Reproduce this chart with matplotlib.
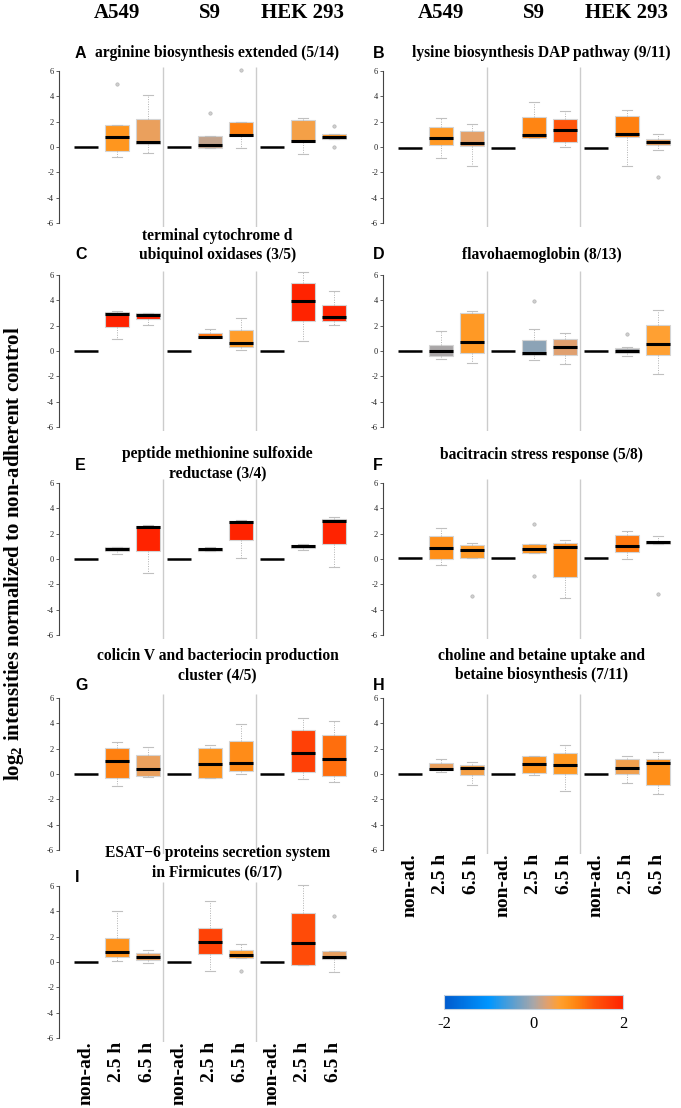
import matplotlib
matplotlib.use('Agg')
import matplotlib.pyplot as plt
from matplotlib.colors import LinearSegmentedColormap, Normalize
from matplotlib.cm import ScalarMappable

# ---- data ----
cell_lines = ['A549', 'S9', 'HEK 293']
timepoints = ['non-ad.', '2.5 h', '6.5 h']
letters = ['A', 'B', 'C', 'D', 'E', 'F', 'G', 'H', 'I']
titles = ['arginine biosynthesis extended (5/14)',
          'lysine biosynthesis DAP pathway (9/11)',
          'terminal cytochrome d\nubiquinol oxidases (3/5)',
          'flavohaemoglobin (8/13)',
          'peptide methionine sulfoxide\nreductase (3/4)',
          'bacitracin stress response (5/8)',
          'colicin V and bacteriocin production\ncluster (4/5)',
          'choline and betaine uptake and\nbetaine biosynthesis (7/11)',
          'ESAT\u22126 proteins secretion system\nin Firmicutes (6/17)']

# order in each row: A549 2.5h, A549 6.5h, S9 2.5h, S9 6.5h, HEK 2.5h, HEK 6.5h
med = [[0.76, 0.39, 0.15, 0.97, 0.48, 0.78],
       [0.70, 0.34, 0.94, 1.36, 0.99, 0.39],
       [2.92, 2.87, 1.10, 0.63, 3.97, 2.66],
       [0.00, 0.70, -0.16, 0.31, -0.03, 0.57],
       [0.81, 2.54, 0.76, 2.91, 1.02, 3.01],
       [0.84, 0.68, 0.79, 0.92, 1.05, 1.31],
       [0.99, 0.39, 0.79, 0.86, 1.62, 1.15],
       [0.39, 0.47, 0.79, 0.73, 0.45, 0.84],
       [0.81, 0.39, 1.60, 0.58, 1.47, 0.37]]
q1 = [[-0.31, 0.26, -0.10, 0.90, 0.37, 0.63],
      [0.13, 0.08, 0.73, 0.39, 0.81, 0.16],
      [1.93, 2.50, 1.02, 0.31, 2.40, 2.40],
      [-0.37, -0.18, -0.31, -0.31, -0.16, -0.34],
      [0.63, 0.65, 0.65, 1.49, 0.84, 1.18],
      [0.00, 0.10, 0.45, -1.39, 0.55, 1.15],
      [-0.29, -0.13, -0.29, 0.21, 0.13, -0.16],
      [0.31, -0.05, 0.10, -0.03, -0.03, -0.89],
      [0.42, 0.16, 0.60, 0.29, -0.21, 0.24]]
q3 = [[1.70, 2.19, 0.87, 1.95, 2.10, 1.00],
      [1.60, 1.25, 2.38, 2.25, 2.48, 0.65],
      [3.05, 3.00, 1.41, 1.62, 5.40, 3.66],
      [0.50, 3.03, 0.89, 0.97, 0.23, 2.06],
      [0.94, 2.62, 0.89, 3.01, 1.13, 3.17],
      [1.83, 1.10, 1.15, 1.28, 1.86, 1.39],
      [2.07, 1.47, 2.09, 2.62, 3.51, 3.06],
      [0.84, 0.71, 1.44, 1.65, 1.18, 1.18],
      [1.92, 0.73, 2.70, 0.92, 3.83, 0.84]]
wlo = [[-0.78, -0.44, -0.10, -0.10, -0.57, 0.63],
       [-0.86, -1.46, 0.68, 0.03, -1.49, -0.21],
       [0.91, 2.09, 1.00, 0.10, 0.78, 2.09],
       [-0.63, -0.94, -0.73, -0.99, -0.42, -1.83],
       [0.39, -1.13, 0.65, 0.05, 0.71, -0.60],
       [-0.47, 0.10, 0.45, -3.04, 0.00, 1.15],
       [-0.97, -0.24, -0.29, 0.00, -0.39, -0.65],
       [0.16, -0.89, -0.10, -1.31, -0.68, -1.57],
       [0.05, -0.05, -0.71, 0.29, -0.26, -0.76]]
whi = [[1.70, 4.10, 0.87, 1.95, 2.30, 1.00],
       [2.27, 1.83, 3.55, 2.82, 2.92, 1.04],
       [3.18, 3.00, 1.75, 2.58, 6.20, 4.70],
       [1.57, 3.18, 1.75, 1.41, 0.31, 3.24],
       [0.97, 2.67, 0.97, 3.06, 1.18, 3.32],
       [2.41, 1.23, 1.15, 1.47, 2.23, 1.78],
       [2.51, 2.15, 2.30, 3.95, 4.42, 4.19],
       [1.15, 0.94, 1.44, 2.30, 1.41, 1.73],
       [4.04, 0.97, 4.78, 1.39, 6.10, 0.84]]
outl = [[[4.96], [], [2.7], [6.1], [], [1.65, 0.0]],
        [[], [], [], [], [], [-2.4]],
        [[], [], [], [], [], []],
        [[], [], [3.97], [], [1.36], []],
        [[], [], [], [], [], []],
        [[], [-2.9], [2.75, -1.34], [], [], [-2.77]],
        [[], [], [], [], [], []],
        [[], [], [], [], [], []],
        [[], [], [], [-0.71], [], [3.65]]]
nonad = [0.0, -0.05, 0.0, 0.02, 0.0, 0.05, -0.03, 0.02, -0.03]

# ---- style ----
plt.rcParams['font.family'] = ['Liberation Serif', 'DejaVu Serif']
plt.rcParams['mathtext.fontset'] = 'custom'
plt.rcParams['mathtext.rm'] = 'Liberation Serif:bold'
plt.rcParams['mathtext.bf'] = 'Liberation Serif:bold'

cmap = LinearSegmentedColormap.from_list(
    'bgor', [(0.0, '#005ACD'), (0.25, '#0096FF'), (0.5, '#A8A6A8'),
             (0.5775, '#E1A06E'), (0.6425, '#FFA032'), (0.69, '#FF961E'),
             (0.75, '#FF8010'), (0.84, '#FF550A'), (1.0, '#FF2300')])
norm = Normalize(-2, 2)

W, H = 681, 1108
fig = plt.figure(figsize=(W / 100, H / 100), dpi=100)


def fx(px):
    return px / W


def fy(py):
    return 1 - py / H


row_y6 = [71, 275, 483, 698, 886]      # pixel row of the "6" tick
col_x = [59, 383]                      # pixel column of the y axis
letter_x = [75, 373]
title_y = [53, 53, 255, 255, 473, 455, 675, 675, 872]
letter_y = [53, 53, 255, 255, 465, 465, 685, 685, 877]
uy, ux = 12.67, 31.0
xlo, xhi = 0.13, 9.45
ylo, yhi = -6.3, 6.3

for k in range(9):
    r, c = divmod(k, 2)
    left = col_x[c]
    top = row_y6[r] - (yhi - 6) * uy
    wpx = (xhi - xlo) * ux
    hpx = (yhi - ylo) * uy
    ax = fig.add_axes([fx(left), fy(top + hpx), wpx / W, hpx / H])

    stats = []
    cols = []
    for g in range(3):
        stats.append(dict(med=nonad[k], q1=nonad[k], q3=nonad[k],
                          whislo=nonad[k], whishi=nonad[k], fliers=[]))
        cols.append('white')
        for t in range(2):
            j = g * 2 + t
            stats.append(dict(med=med[k][j], q1=q1[k][j], q3=q3[k][j],
                              whislo=wlo[k][j], whishi=whi[k][j],
                              fliers=outl[k][j]))
            cols.append(cmap(norm(med[k][j])))
    pos = list(range(1, 10))
    ax.vlines([3.5, 6.5], ylo, yhi, color='#cccccc', lw=1.0, zorder=0)
    bp = ax.bxp(stats, positions=pos, widths=0.8, patch_artist=True,
                capwidths=0.3,
                boxprops=dict(edgecolor='#d4d4d4', linewidth=0.8),
                medianprops=dict(color='black', linewidth=2.2,
                                 solid_capstyle='butt'),
                whiskerprops=dict(color='#b0b0b0', linestyle=(0, (1, 1.5)),
                                  linewidth=0.7),
                capprops=dict(color='#c0c0c0', linewidth=0.8),
                flierprops=dict(marker='o', markersize=2.4,
                                markerfacecolor='#d0d0d0',
                                markeredgecolor='#b4b4b4',
                                markeredgewidth=0.5))
    for patch, col in zip(bp['boxes'], cols):
        patch.set_facecolor(col)
    for i in (0, 3, 6):
        bp['boxes'][i].set_visible(False)
        bp['medians'][i].set_linewidth(1.8)

    ax.set_xlim(xlo, xhi)
    ax.set_ylim(ylo, yhi)
    for s in ('top', 'right', 'bottom'):
        ax.spines[s].set_visible(False)
    ax.spines['left'].set_bounds(-6, 6)
    ax.spines['left'].set_color('#444444')
    ax.spines['left'].set_linewidth(0.8)
    ax.set_yticks([-6, -4, -2, 0, 2, 4, 6])
    ax.set_yticklabels(['-6', '-4', '-2', '0', '2', '4', '6'])
    ax.tick_params(axis='y', labelsize=6, length=2.5, width=0.6,
                   pad=1, colors='#444444', labelcolor='#222222')
    if k in (7, 8):
        ax.set_xticks(pos)
        ax.set_xticklabels(timepoints * 3, rotation=90, fontsize=14,
                           fontweight='bold')
        ax.tick_params(axis='x', length=0, pad=0)
    else:
        ax.set_xticks([])

    # title lines and panel letter
    cx = left + wpx / 2 + 14
    lines = titles[k].split('\n')
    for n, line in enumerate(reversed(lines)):
        fig.text(fx(cx), fy(title_y[k] - 19 * n), line, ha='center',
                 va='center', fontsize=11.2, fontweight='bold')
    fig.text(fx(letter_x[c]), fy(letter_y[k]), letters[k],
             ha='left', va='center', fontsize=11.5, fontweight='bold',
             family=['Liberation Sans', 'DejaVu Sans'])

# column headers
for c in range(2):
    for g, name in enumerate(cell_lines):
        xp = col_x[c] + (2 + 3 * g - xlo) * ux
        fig.text(fx(xp), fy(13), name, ha='center', va='center',
                 fontsize=15, fontweight='bold')

fig.text(fx(14), fy(554),
         r'log$_{\mathbf{2}}$ intensities normalized to non-adherent control',
         rotation=90, ha='center', va='center', fontsize=15,
         fontweight='bold')

cax = fig.add_axes([fx(444), fy(1009), 179 / W, 14 / H])
cb = fig.colorbar(ScalarMappable(norm=norm, cmap=cmap), cax=cax,
                  orientation='horizontal', ticks=[-2, 0, 2])
cb.ax.set_xticklabels(['-2', '0', '2'])
cb.ax.tick_params(length=0, labelsize=12, pad=5)
cb.outline.set_edgecolor('#c8d4e0')
cb.outline.set_linewidth(0.8)

fig.savefig('out.png', dpi=100)
